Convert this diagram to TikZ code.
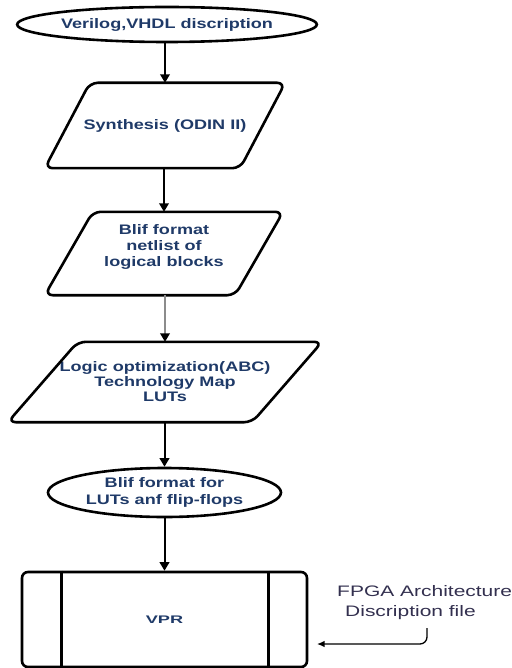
\documentclass[tikz,border=0pt]{standalone}
\usepackage{fontspec}
\setmainfont{Liberation Sans}
\newfontfamily\boxfont[FakeStretch=1.31]{Liberation Sans}
\newfontfamily\vprfont[FakeStretch=1.65]{Liberation Sans}
\newfontfamily\notefont[FakeStretch=1.38]{Liberation Sans}
\usetikzlibrary{shapes.geometric,arrows.meta,calc}
\definecolor{txtblue}{HTML}{1F3A68}
\definecolor{notecol}{HTML}{33304F}
\begin{document}
\begin{tikzpicture}[x=1pt,y=-1pt,
  outline/.style={draw=black, line width=2.6pt},
  lbl/.style={text=txtblue, font=\boxfont\bfseries\fontsize{13.8}{#1}\selectfont, align=center, inner sep=0pt},
  lbl/.default=15.5,
  ovalbox/.style={ellipse, outline, inner sep=0pt},
  slantbox/.style={inner sep=0pt},
  flow/.style={line width=2pt, -{Triangle[width=9.5pt,length=8.5pt]}},
  flowgray/.style={line width=2pt, draw=black!45, -{Triangle[width=9.5pt,length=8.5pt,black]}},
  notearrow/.style={line width=1.3pt, rounded corners=7pt, -{Latex[width=6.5pt,length=7.5pt]}},
]
\useasboundingbox (0,0) rectangle (511,668);

% source ellipse
\node[ovalbox, lbl, minimum width=230pt, minimum height=35pt] (src) at (167,24.5) {Verilog,VHDL discription};

% Synthesis parallelogram
\node[slantbox, lbl, minimum width=240pt, minimum height=85pt] (syn) at (165,125.5) {Synthesis (ODIN II)};
\draw[outline, rounded corners=8pt] ($(syn.north west)+(45,0)$) -- (syn.north east) -- ($(syn.south east)+(-45,0)$) -- (syn.south west) -- cycle;

% Blif netlist parallelogram
\node[slantbox, minimum width=238pt, minimum height=83pt] (blif) at (164,253.5) {};
\draw[outline, rounded corners=8pt] ($(blif.north west)+(48,0)$) -- (blif.north east) -- ($(blif.south east)+(-48,0)$) -- (blif.south west) -- cycle;
\node[lbl=16] (bliftxt) at (164,246.5) {Blif format\\netlist of\\logical blocks};

% Logic optimization parallelogram
\node[slantbox, lbl=15, minimum width=314pt, minimum height=80pt] (abc) at (165,382) {Logic optimization(ABC)\\Technology Map\\LUTs};
\draw[outline, rounded corners=8pt] ($(abc.north west)+(70,0)$) -- (abc.north east) -- ($(abc.south east)+(-70,0)$) -- (abc.south west) -- cycle;

% Blif for LUTs ellipse
\node[ovalbox, lbl=17, minimum width=233pt, minimum height=49pt] (blut) at (164.5,492.5) {Blif format for\\LUTs anf flip-flops};

% VPR box
\node[outline, rounded corners=6pt, inner sep=0pt, minimum width=285pt, minimum height=95pt,
      text=txtblue, font=\vprfont\bfseries\fontsize{11}{13}\selectfont] (vpr) at (164.5,619.5) {VPR};
\draw[outline] ($(vpr.north west)+(41,0)$) -- ($(vpr.south west)+(41,0)$);
\draw[outline] ($(vpr.north east)+(-40,0)$) -- ($(vpr.south east)+(-40,0)$);

% note
\node[anchor=west, inner sep=0pt, align=left, text=notecol,
      font=\notefont\fontsize{15.2}{20}\selectfont] (arch) at (337,603) {FPGA Architecture\\\hspace*{8pt}Discription file};
\coordinate (archout) at (427,628);
\coordinate (vprin) at (317,644);

% connectors
\draw[flow] (syn.north |- src.south) -- (syn.north);
\draw[flow] (blif.north |- syn.south) -- (blif.north);
\draw[flowgray] (abc.north |- blif.south) -- (abc.north);
\draw[flow] (blut.north |- abc.south) -- (blut.north);
\draw[flow] (vpr.north |- blut.south) -- (vpr.north);
\draw[notearrow] (archout) |- (vprin);
\end{tikzpicture}
\end{document}
